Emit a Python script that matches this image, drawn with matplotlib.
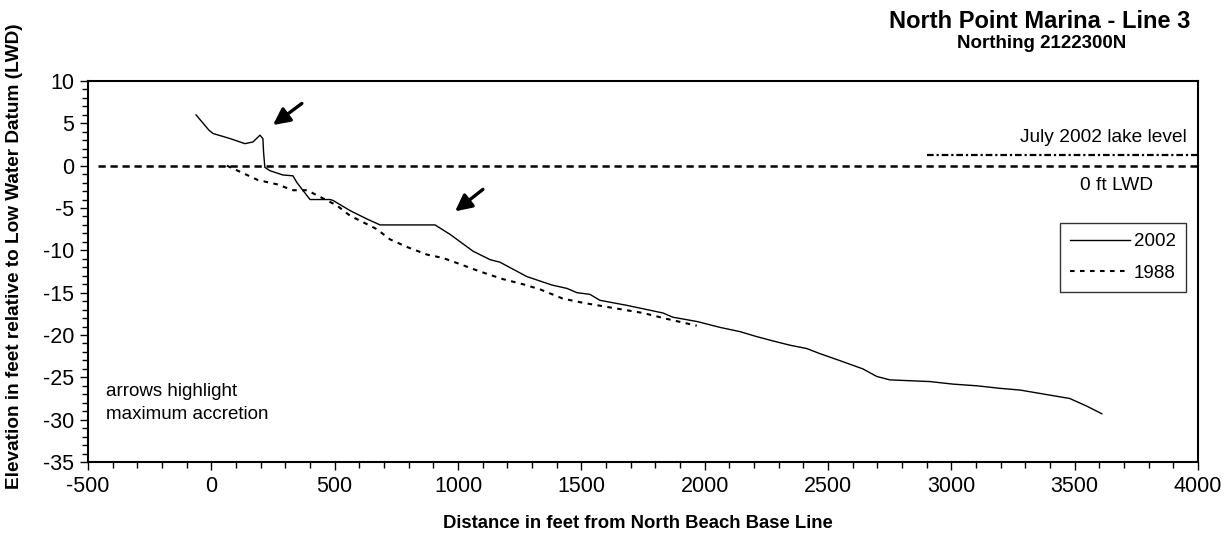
import matplotlib
matplotlib.use("Agg")
import matplotlib.pyplot as plt
from matplotlib.ticker import MultipleLocator

plt.rcParams["font.family"] = ["Liberation Sans", "DejaVu Sans"]
plt.rcParams["axes.unicode_minus"] = False

# 2002 survey profile (distance ft, elevation ft LWD)
x_2002 = [-62, -10, 7, 76, 136, 169, 197, 209, 212, 217, 238, 290, 331, 347, 400,
          481, 493, 562, 631, 684, 907, 967, 1061, 1130, 1170, 1279, 1381, 1442,
          1482, 1535, 1575, 1685, 1831, 1871, 1968, 2062, 2143, 2212, 2277, 2345,
          2414, 2467, 2536, 2641, 2698, 2751, 2832, 2913, 3006, 3104, 3197, 3278,
          3359, 3480, 3549, 3610]
y_2002 = [6.0, 4.2, 3.8, 3.2, 2.6, 2.8, 3.6, 3.2, 1.5, -0.2, -0.6, -1.1, -1.2, -2.0,
          -4.0, -4.0, -4.1, -5.3, -6.3, -7.0, -7.0, -8.1, -10.1, -11.1, -11.4, -13.1,
          -14.1, -14.5, -15.0, -15.2, -15.9, -16.5, -17.4, -17.9, -18.4, -19.1, -19.6,
          -20.2, -20.7, -21.2, -21.6, -22.2, -22.9, -24.0, -24.9, -25.3, -25.4, -25.5,
          -25.8, -26.0, -26.3, -26.5, -26.9, -27.5, -28.4, -29.3]

# 1988 survey profile
x_1988 = [63, 189, 266, 331, 388, 509, 562, 671, 724, 793, 874, 939, 996, 1089,
          1182, 1263, 1332, 1425, 1507, 1628, 1750, 1847, 1968]
y_1988 = [0.0, -1.7, -2.2, -2.9, -2.9, -4.7, -5.9, -7.5, -8.7, -9.6, -10.5, -10.9,
          -11.5, -12.5, -13.4, -14.0, -14.6, -15.7, -16.2, -16.8, -17.4, -18.1, -18.9]

# reference levels
lwd_x = [-460, 4000]
lwd_y = [0, 0]
lake_x = [2900, 4000]
lake_y = [1.3, 1.3]

# arrows: (tail x, tail y, tip x, tip y)
arrows = [(367, 7.35, 250, 4.8), (1101, -2.8, 988, -5.4)]

W, H = 1230, 535
fig = plt.figure(figsize=(W / 100, H / 100), dpi=100)
L, R, T, B = 88, 1198, 81, 462
ax = fig.add_axes([L / W, 1 - B / H, (R - L) / W, (B - T) / H])

ax.plot(x_2002, y_2002, color="black", lw=1.0, label="2002")
ax.plot(x_1988, y_1988, color="black", lw=1.5, linestyle=(0, (2.2, 2.6)), label="1988")
ax.plot(lwd_x, lwd_y, color="black", lw=1.8, linestyle=(0, (2.9, 1.9)))
ax.plot(lake_x, lake_y, color="black", lw=1.6, linestyle=(0, (3.0, 1.3, 1.0, 1.3)))

for tx, ty, hx, hy in arrows:
    ax.annotate("", xy=(hx, hy), xytext=(tx, ty),
                arrowprops=dict(arrowstyle="-|>,head_length=1.0,head_width=0.5",
                                color="black", lw=2.4, shrinkA=0, shrinkB=0))

ax.set_xlim(-500, 4000)
ax.set_ylim(-35, 10)
ax.xaxis.set_major_locator(MultipleLocator(500))
ax.xaxis.set_minor_locator(MultipleLocator(100))
ax.yaxis.set_major_locator(MultipleLocator(5))
ax.yaxis.set_minor_locator(MultipleLocator(1))
ax.tick_params(which="both", direction="out", width=1, labelsize=15.5, pad=4)
ax.tick_params(which="major", length=6)
ax.tick_params(which="minor", length=4.5)
for s in ax.spines.values():
    s.set_linewidth(1.5)

fig.text(638 / W, 1 - 523 / H, "Distance in feet from North Beach Base Line",
         fontsize=13.3, fontweight="bold", ha="center", va="center")
fig.text(15 / W, 1 - 256 / H, "Elevation in feet relative to Low Water Datum (LWD)",
         fontsize=13.7, fontweight="bold", ha="center", va="center", rotation=90)

fig.text(1040 / W, 1 - 21 / H, "North Point Marina - Line 3", fontsize=17,
         fontweight="bold", ha="center", va="center")
fig.text(1042 / W, 1 - 43 / H, "Northing 2122300N", fontsize=13.5,
         fontweight="bold", ha="center", va="center")

ax.text(3955, 2.3, "July 2002 lake level", fontsize=13.8, ha="right", va="bottom")
ax.text(3671, -2.3, "0 ft LWD", fontsize=13.8, ha="center", va="center")
ax.text(-427, -28.0, "arrows highlight\nmaximum accretion", fontsize=13.5,
        ha="left", va="center", linespacing=1.45)

leg = ax.legend(loc="upper right", bbox_to_anchor=(1186 / W, 1 - 223 / H),
                bbox_transform=fig.transFigure, frameon=True, fancybox=False,
                edgecolor="black", fontsize=13.5, handlelength=3.2, handletextpad=0.2,
                borderaxespad=0, borderpad=0.55, labelspacing=0.75)
leg.get_frame().set_linewidth(1.0)

fig.savefig("out.png", dpi=100)
